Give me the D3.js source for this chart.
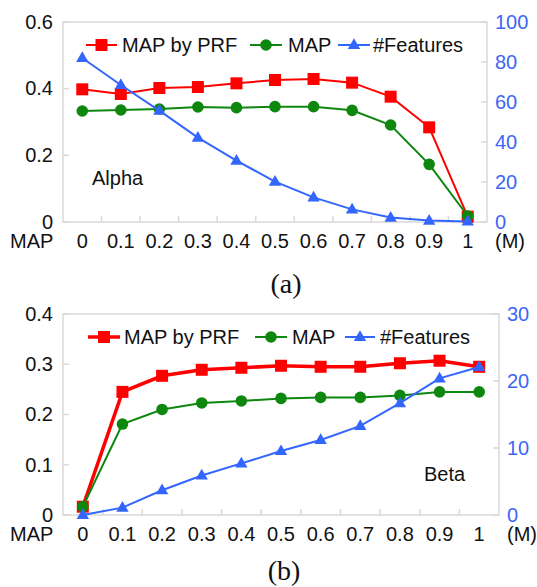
<!DOCTYPE html>
<html>
<head>
<meta charset="utf-8">
<script src="https://cdn.jsdelivr.net/npm/d3@7"></script>
<style>
  body { margin: 0; background: #fff; }
  svg { display: block; }
  text { font-family: "Liberation Sans", Arial, sans-serif; }
</style>
</head>
<body>
<svg id="chart" width="537" height="587"></svg>
<script>
// x categories (M)
var mValues = ["0", "0.1", "0.2", "0.3", "0.4", "0.5", "0.6", "0.7", "0.8", "0.9", "1"];

// panel (a) - Alpha
var prfA = [0.398, 0.384, 0.402, 0.405, 0.416, 0.426, 0.429, 0.418, 0.376, 0.284, 0.016];
var mapA = [0.333, 0.336, 0.339, 0.345, 0.343, 0.346, 0.346, 0.335, 0.291, 0.173, 0.018];
var featA = [82, 68.5, 55.7, 42.2, 30.7, 20.2, 12.3, 6.3, 2.2, 0.7, 0.3];
var leftTicksA = [0, 0.2, 0.4, 0.6];
var rightTicksA = [0, 20, 40, 60, 80, 100];

// panel (b) - Beta
var prfB = [0.0165, 0.245, 0.277, 0.289, 0.293, 0.297, 0.295, 0.295, 0.302, 0.307, 0.295];
var mapB = [0.0165, 0.181, 0.210, 0.223, 0.227, 0.232, 0.234, 0.234, 0.238, 0.245, 0.245];
var featB = [0, 1.1, 3.7, 5.9, 7.7, 9.55, 11.2, 13.3, 16.7, 20.4, 22.1];
var leftTicksB = [0, 0.1, 0.2, 0.3, 0.4];
var rightTicksB = [0, 10, 20, 30];

var seriesNames = ["MAP by PRF", "MAP", "#Features"];

var RED = "#ff0000", GREEN = "#0e870e", BLUE = "#3366ff", AXISBLUE = "#3d66f5";
var BORDER = "#d9d9d9";

var svg = d3.select("#chart");

var fmtLeft = function(v) { return v === 0 ? "0" : d3.format(".1f")(v); };

var marker = function(g, type, cx, cy, color) {
    if (type == "square") {
        g.append("rect").attr("x", cx - 6).attr("y", cy - 6)
            .attr("width", 12).attr("height", 12).attr("fill", color);
    } else if (type == "circle") {
        g.append("circle").attr("cx", cx).attr("cy", cy).attr("r", 5.8).attr("fill", color);
    } else {
        var tri = d3.symbol().type(d3.symbolTriangle).size(66);
        g.append("path").attr("d", tri()).attr("transform", "translate(" + cx + "," + (cy + 0.5) + ")")
            .attr("fill", color);
    }
};

var drawPanel = function(cfg) {
    var g = svg.append("g");

    var x = d3.scaleBand().domain(mValues).range([cfg.left, cfg.right]);
    var yL = d3.scaleLinear().domain(cfg.leftDomain).range([cfg.bottom, cfg.top]);
    var yR = d3.scaleLinear().domain(cfg.rightDomain).range([cfg.bottom, cfg.top]);
    var cx = function(d, i) { return x(mValues[i]) + x.bandwidth() / 2; };

    // plot border
    g.append("rect")
        .attr("x", cfg.left).attr("y", cfg.top)
        .attr("width", cfg.right - cfg.left).attr("height", cfg.bottom - cfg.top)
        .attr("fill", "none").attr("stroke", BORDER).attr("stroke-width", 1.5);

    // inner ticks on the bottom at band edges
    g.selectAll("line.xtick").data(mValues.slice(1)).enter().append("line")
        .attr("class", "xtick")
        .attr("x1", function(d) { return x(d); }).attr("x2", function(d) { return x(d); })
        .attr("y1", cfg.bottom).attr("y2", cfg.bottom - 6)
        .attr("stroke", BORDER).attr("stroke-width", 1.5);

    // left / right inner ticks
    g.selectAll("line.ltick").data(cfg.leftTicks).enter().append("line")
        .attr("class", "ltick")
        .attr("x1", cfg.left).attr("x2", cfg.left + 6)
        .attr("y1", function(d) { return yL(d); }).attr("y2", function(d) { return yL(d); })
        .attr("stroke", BORDER).attr("stroke-width", 1.5);
    g.selectAll("line.rtick").data(cfg.rightTicks).enter().append("line")
        .attr("class", "rtick")
        .attr("x1", cfg.right).attr("x2", cfg.right - 6)
        .attr("y1", function(d) { return yR(d); }).attr("y2", function(d) { return yR(d); })
        .attr("stroke", BORDER).attr("stroke-width", 1.5);

    // left axis labels
    g.selectAll("text.ylab").data(cfg.leftTicks).enter().append("text")
        .attr("class", "ylab")
        .attr("x", 53).attr("y", function(d) { return yL(d); })
        .attr("dy", "0.34em").attr("text-anchor", "end")
        .attr("font-size", 20).attr("fill", "#111")
        .text(fmtLeft);

    // right axis labels
    g.selectAll("text.yrlab").data(cfg.rightTicks).enter().append("text")
        .attr("class", "yrlab")
        .attr("x", cfg.right + 8).attr("y", function(d) { return yR(d); })
        .attr("dy", "0.34em").attr("text-anchor", "start")
        .attr("font-size", 20).attr("fill", AXISBLUE)
        .text(function(d) { return d; });

    // x labels
    var xlabY = cfg.bottom + 26;
    g.selectAll("text.xlab").data(mValues).enter().append("text")
        .attr("class", "xlab")
        .attr("x", function(d) { return x(d) + x.bandwidth() / 2; })
        .attr("y", xlabY)
        .attr("text-anchor", "middle").attr("font-size", 20).attr("fill", "#111")
        .text(function(d) { return d; });
    g.append("text").attr("x", 10).attr("y", xlabY)
        .attr("font-size", 20).attr("fill", "#111").text("MAP");
    g.append("text").attr("x", cfg.right + 8).attr("y", xlabY)
        .attr("font-size", 20).attr("fill", "#111").text("(M)");

    // series
    var series = [
        {vals: cfg.prf, y: yL, color: RED, type: "square", w: cfg.prfWidth},
        {vals: cfg.map, y: yL, color: GREEN, type: "circle", w: 2},
        {vals: cfg.feat, y: yR, color: BLUE, type: "triangle", w: 2}
    ];
    series.forEach(function(s) {
        var line = d3.line()
            .x(function(d, i) { return cx(d, i); })
            .y(function(d) { return s.y(d); });
        g.append("path").attr("d", line(s.vals))
            .attr("fill", "none").attr("stroke", s.color).attr("stroke-width", s.w);
        s.vals.forEach(function(v, i) {
            marker(g, s.type, cx(v, i), s.y(v), s.color);
        });
    });

    // legend
    cfg.legend.forEach(function(item, i) {
        var s = series[i];
        g.append("line").attr("x1", item[0]).attr("x2", item[1])
            .attr("y1", cfg.legendY).attr("y2", cfg.legendY)
            .attr("stroke", s.color).attr("stroke-width", s.w);
        marker(g, s.type, (item[0] + item[1]) / 2, cfg.legendY, s.color);
        g.append("text").attr("x", item[2]).attr("y", cfg.legendY)
            .attr("dy", "0.36em").attr("font-size", 20).attr("fill", "#111")
            .text(seriesNames[i]);
    });

    // panel name
    g.append("text").attr("x", cfg.nameX).attr("y", cfg.nameY)
        .attr("font-size", 20).attr("fill", "#111").text(cfg.name);

    // caption
    g.append("text").attr("x", cfg.capX).attr("y", cfg.capY)
        .attr("text-anchor", "middle")
        .attr("font-size", 28).attr("fill", "#111")
        .style("font-family", "'Liberation Serif', 'Times New Roman', serif")
        .text(cfg.caption);
};

drawPanel({
    left: 63, right: 487, top: 22, bottom: 222,
    leftDomain: [0, 0.6], rightDomain: [0, 100],
    leftTicks: leftTicksA, rightTicks: rightTicksA,
    prf: prfA, map: mapA, feat: featA, prfWidth: 2,
    legendY: 45,
    legend: [[86, 117, 122], [250, 282, 288], [338, 370, 373]],
    name: "Alpha", nameX: 92, nameY: 185,
    caption: "(a)", capX: 286, capY: 293
});

drawPanel({
    left: 63, right: 499, top: 314, bottom: 515,
    leftDomain: [0, 0.4], rightDomain: [0, 30],
    leftTicks: leftTicksB, rightTicks: rightTicksB,
    prf: prfB, map: mapB, feat: featB, prfWidth: 3.5,
    legendY: 337,
    legend: [[88, 120, 124], [255, 287, 292], [345, 375, 380]],
    name: "Beta", nameX: 424, nameY: 481,
    caption: "(b)", capX: 284, capY: 580
});
</script>
</body>
</html>
